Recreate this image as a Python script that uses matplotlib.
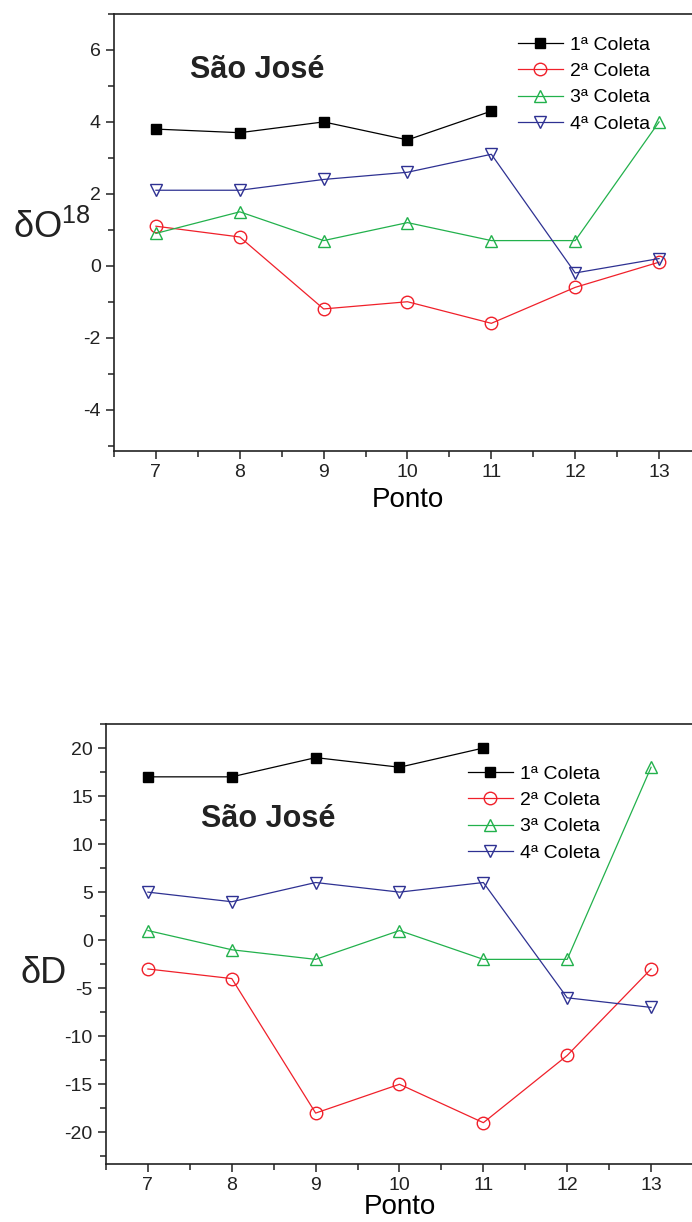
import matplotlib
matplotlib.use('Agg')
from matplotlib import pyplot as plt

plt.rcParams['font.family'] = ['Liberation Sans', 'DejaVu Sans']
plt.rcParams['mathtext.fontset'] = 'custom'
plt.rcParams['mathtext.rm'] = 'Liberation Sans'
plt.rcParams['mathtext.default'] = 'regular'
plt.rcParams['axes.unicode_minus'] = False

# sampling points
pontos = [7, 8, 9, 10, 11, 12, 13]
pontos1 = [7, 8, 9, 10, 11]

# delta O18 per campaign
o18_c1 = [3.8, 3.7, 4.0, 3.5, 4.3]
o18_c2 = [1.1, 0.8, -1.2, -1.0, -1.6, -0.6, 0.1]
o18_c3 = [0.9, 1.5, 0.7, 1.2, 0.7, 0.7, 4.0]
o18_c4 = [2.1, 2.1, 2.4, 2.6, 3.1, -0.2, 0.2]

# delta D per campaign
dd_c1 = [17, 17, 19, 18, 20]
dd_c2 = [-3, -4, -18, -15, -19, -12, -3]
dd_c3 = [1, -1, -2, 1, -2, -2, 18]
dd_c4 = [5, 4, 6, 5, 6, -6, -7]

labels = ['1ª Coleta', '2ª Coleta', '3ª Coleta', '4ª Coleta']
cores = ['black', '#f0202a', '#22b14c', '#2e3192']

W, H = 692, 1222
fig = plt.figure(figsize=(W / 100, H / 100), dpi=100)


def px(x, y):
    # pixel position (from top-left) -> figure fraction
    return x / W, 1 - y / H


def painel(rect, s1, s2, s3, s4, ylim, yticks, ylab, ylab_xy, title_xy, leg_xy, xpad):
    ax = fig.add_axes(rect)
    ax.plot(pontos1, s1, '-s', color=cores[0], lw=0.9, ms=7, mfc=cores[0], label=labels[0])
    ax.plot(pontos, s2, '-o', color=cores[1], lw=0.9, ms=9, mfc='none', mew=1.0, label=labels[1])
    ax.plot(pontos, s3, '-^', color=cores[2], lw=0.9, ms=9, mfc='none', mew=1.0, label=labels[2])
    ax.plot(pontos, s4, '-v', color=cores[3], lw=0.9, ms=9, mfc='none', mew=1.0, label=labels[3])
    ax.set_xlim(6.5, 13.5)
    ax.set_ylim(*ylim)
    ax.set_xticks(pontos)
    ax.set_xticks([x + 0.5 for x in range(6, 14)], minor=True)
    ax.set_yticks(yticks)
    step = yticks[1] - yticks[0]
    ax.set_yticks([y + step / 2 for y in yticks] + [yticks[0] - step / 2], minor=True)
    ax.tick_params(which='both', direction='out', width=1.1, labelsize=14, colors='#222222')
    ax.tick_params(which='major', length=6)
    ax.tick_params(which='minor', length=4)
    for sp in ax.spines.values():
        sp.set_linewidth(1.2)
        sp.set_color('#222222')
    ax.set_xlabel('Ponto', fontsize=20, labelpad=xpad)
    fig.text(*px(*ylab_xy), ylab, fontsize=26, ha='left', va='baseline', color='#222222')
    fig.text(*px(*title_xy), 'São José', fontsize=22, fontweight='bold',
             ha='left', va='baseline', color='#222222')
    ax.legend(loc='upper left', bbox_to_anchor=px(*leg_xy), bbox_transform=fig.transFigure,
              frameon=False, fontsize=14, handlelength=2.3, handletextpad=0.35,
              labelspacing=0.45, borderpad=0, borderaxespad=0)
    return ax


painel([114 / W, 1 - 451 / H, 587 / W, 437 / H],
       o18_c1, o18_c2, o18_c3, o18_c4,
       (-5.15, 7), [-4, -2, 0, 2, 4, 6], 'δO$^{18}$',
       (13, 238), (190, 78), (518, 36), 4)

painel([106 / W, 1 - 1164 / H, 587 / W, 440 / H],
       dd_c1, dd_c2, dd_c3, dd_c4,
       (-23.3, 22.5), [-20, -15, -10, -5, 0, 5, 10, 15, 20], 'δD',
       (21, 983), (201, 827), (468, 765), 0)

fig.savefig('out.png', dpi=100)
